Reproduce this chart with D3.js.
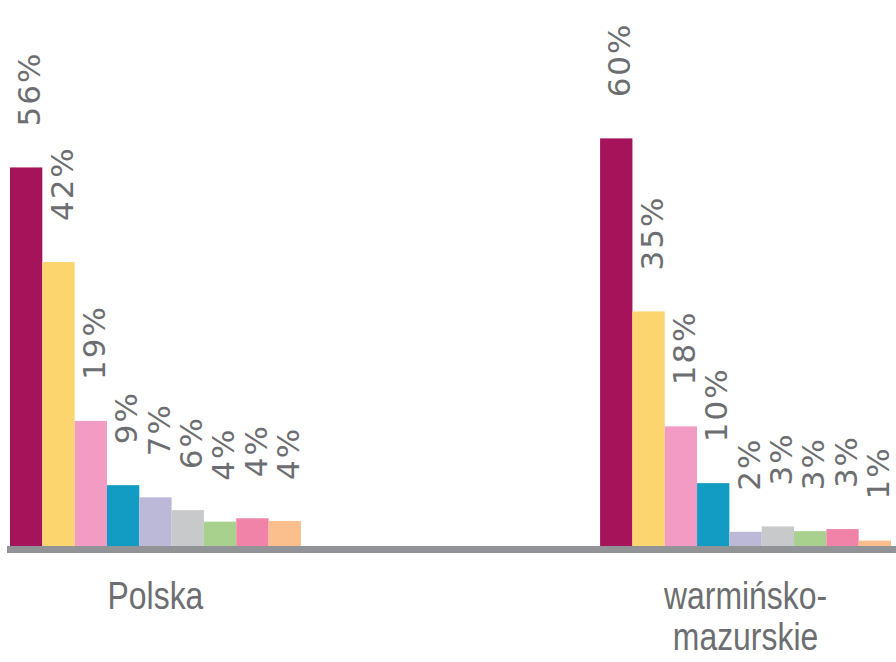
<!DOCTYPE html>
<html>
<head>
  <meta charset="utf-8">
  <title>Polska vs warmińsko-mazurskie</title>
  <script src="https://d3js.org/d3.v7.min.js"></script>
  <style>
    body { margin: 0; background: #fff; }
    .val { font-family: 'DejaVu Sans', sans-serif; font-size: 31px; fill: #6d6e71; letter-spacing: 2px; }
    .cat { font-family: 'Liberation Sans', sans-serif; font-size: 38px; fill: #6d6e71; }
  </style>
</head>
<body>
  <div id="chart"></div>
  <script>
    // categories (groups) and the 9 series shown in each group
    var groups = ["Polska", "warmińsko-mazurskie"];
    var groupLines = [["Polska"], ["warmińsko-", "mazurskie"]];
    var series = ["s1", "s2", "s3", "s4", "s5", "s6", "s7", "s8", "s9"];
    var colors = ["#a5135a", "#fdd56e", "#f29cc3", "#139cc3", "#bcb8d8", "#c8c9cb", "#a9d18e", "#f083a7", "#fbbf8d"];

    var polskaValues = [56, 42, 18.5, 9, 7.2, 5.3, 3.6, 4.1, 3.7];
    var polskaLabels = ["56%", "42%", "19%", "9%", "7%", "6%", "4%", "4%", "4%"];
    var warmValues = [60.3, 34.7, 17.7, 9.3, 2.1, 2.9, 2.2, 2.5, 0.8];
    var warmLabels = ["60%", "35%", "18%", "10%", "2%", "3%", "3%", "3%", "1%"];

    var values = [polskaValues, warmValues];
    var labels = [polskaLabels, warmLabels];

    var width = 896, height = 662;
    var base = 546;

    var svg = d3.select("#chart")
      .append("svg")
      .attr("width", width)
      .attr("height", height);

    var x0 = d3.scaleBand()
      .domain(groups)
      .range([10, 891])
      .paddingInner(0.507)
      .paddingOuter(0);

    var x1 = d3.scaleBand()
      .domain(series)
      .range([0, x0.bandwidth()])
      .padding(0);

    var y = d3.scaleLinear()
      .domain([0, 60])
      .range([base, base - 60 * 6.76]);

    var rows = [];
    groups.forEach(function(g, gi) {
      series.forEach(function(s, si) {
        rows.push({ g: g, s: s, v: values[gi][si], label: labels[gi][si], c: colors[si] });
      });
    });

    svg.selectAll(".bar")
      .data(rows)
      .enter()
      .append("rect")
      .attr("class", "bar")
      .attr("x", d => x0(d.g) + x1(d.s))
      .attr("y", d => y(d.v))
      .attr("width", x1.bandwidth())
      .attr("height", d => base - y(d.v))
      .attr("fill", d => d.c);

    // value labels, rotated, above each bar
    svg.selectAll(".val")
      .data(rows)
      .enter()
      .append("text")
      .attr("class", "val")
      .attr("transform", function(d) {
        var tx = x0(d.g) + x1(d.s) + x1.bandwidth() - 2;
        var ty = y(d.v) - 41;
        return "translate(" + tx + "," + ty + ") rotate(-90)";
      })
      .text(d => d.label);

    // baseline
    svg.append("rect")
      .attr("x", 7)
      .attr("y", base)
      .attr("width", width - 7)
      .attr("height", 7)
      .attr("fill", "#929396");

    // category labels, squeezed horizontally like the condensed original face
    groups.forEach(function(g, gi) {
      var cx = x0(g) + x0.bandwidth() / 2;
      var t = svg.append("text")
        .attr("class", "cat")
        .attr("text-anchor", "middle")
        .attr("transform", "translate(" + cx + ",609) scale(0.84,1)");
      groupLines[gi].forEach(function(line, li) {
        t.append("tspan")
          .attr("x", 0)
          .attr("dy", li === 0 ? 0 : 41)
          .text(line);
      });
    });
  </script>
</body>
</html>
